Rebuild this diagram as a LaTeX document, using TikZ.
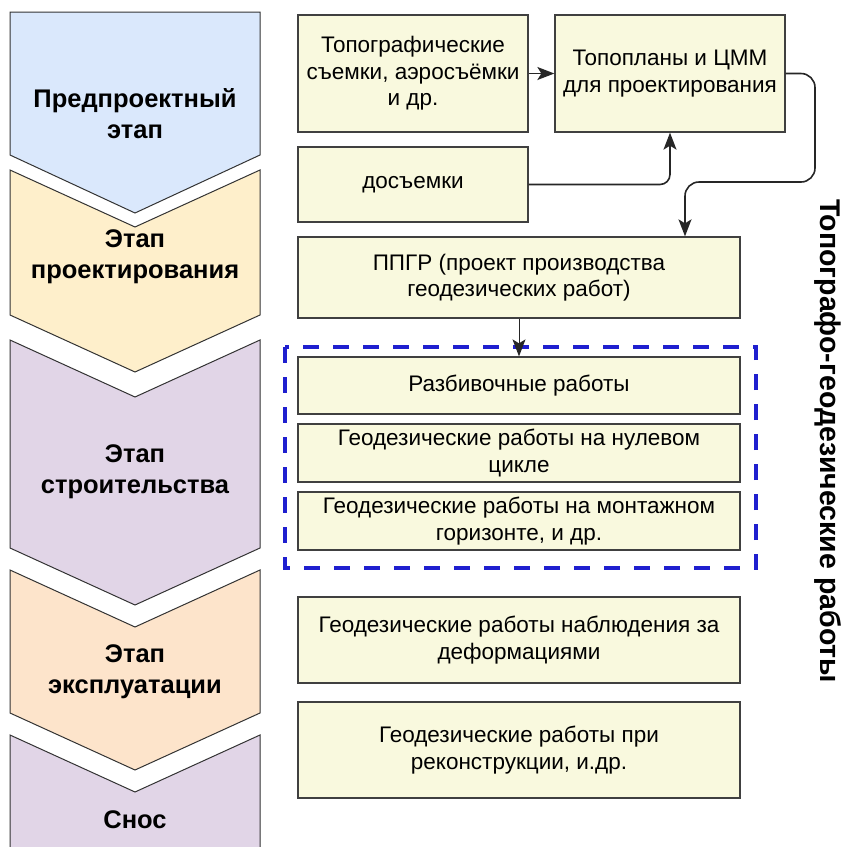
\documentclass[tikz,border=0pt]{standalone}
\usepackage{fontspec}
\setmainfont{Liberation Sans}
\usetikzlibrary{arrows.meta}

\definecolor{stageblue}{HTML}{DAE8FC}
\definecolor{stageyellow}{HTML}{FEEFCB}
\definecolor{stageorange}{HTML}{FDE4CB}
\definecolor{stagepurple}{HTML}{E1D5E7}
\definecolor{boxfill}{HTML}{F9F9DE}
\definecolor{framblue}{HTML}{1F1FCF}

\begin{document}
\begin{tikzpicture}[x=1pt,y=-1pt,
    stage/.style={align=center, font=\fontsize{25.5}{31}\selectfont\bfseries},
    chev/.style={draw=black!80, line width=1pt},
    box/.style={draw=black!75, fill=boxfill, line width=1.3pt, align=center,
      inner sep=0pt, font=\fontsize{22.5}{26.5}\selectfont},
    arr/.style={-{Stealth[length=17pt,width=13pt,inset=4pt]}, line width=1.6pt, draw=black!85}]
  \useasboundingbox (0,0) rectangle (843,847);

  % stages
  \path[chev, fill=stageblue] (10,12) -- (260,12) -- (260,155) -- (135,213) -- (10,155) -- cycle;
  \path[chev, fill=stageyellow] (10,170) -- (135,227) -- (260,170) -- (260,315) -- (135,372) -- (10,315) -- cycle;
  \path[chev, fill=stagepurple] (10,340) -- (135,397) -- (260,340) -- (260,548) -- (135,605) -- (10,548) -- cycle;
  \path[chev, fill=stageorange] (10,570) -- (135,627) -- (260,570) -- (260,713) -- (135,770) -- (10,713) -- cycle;
  \path[chev, fill=stagepurple] (10,735) -- (135,792) -- (260,735) -- (260,849) -- (10,849) -- cycle;

  \node[stage] (pre) at (135,114) {Предпроектный\\этап};
  \node[stage] (proj) at (135,257) {Этап\\проектирования};
  \node[stage] (build) at (135,472) {Этап\\строительства};
  \node[stage] (use) at (135,672) {Этап\\эксплуатации};
  \node[stage] (demol) at (135,820) {Снос};

  % works
  \node[box, minimum width=230, minimum height=117] (topo) at (413,73.5) {Топографические\\съемки, аэросъёмки\\и др.};
  \node[box, minimum width=230, minimum height=117] (tmm) at (670,73.5) {Топопланы и ЦММ\\для проектирования};
  \node[box, minimum width=230, minimum height=75] (dos) at (413,184.5) {досъемки};
  \node[box, minimum width=442, minimum height=81] (ppgr) at (519,277.5) {ППГР (проект производства\\геодезических работ)};

  \draw[framblue, line width=3.5pt, dash pattern=on 16pt off 14pt] (285,347) rectangle (756,568);

  \node[box, minimum width=442, minimum height=57] (razb) at (519,385.5) {Разбивочные работы};
  \node[box, minimum width=442, minimum height=58] (zero) at (519,453) {Геодезические работы на нулевом\\цикле};
  \node[box, minimum width=442, minimum height=58] (mont) at (519,521) {Геодезические работы на монтажном\\горизонте, и др.};
  \node[box, minimum width=442, minimum height=86] (deform) at (519,640) {Геодезические работы наблюдения за\\деформациями};
  \node[box, minimum width=442, minimum height=96] (recon) at (519,750) {Геодезические работы при\\реконструкции, и.др.};

  \node[rotate=-90, font=\fontsize{28.5}{32}\selectfont\bfseries] (side) at (828,441) {Топографо-геодезические работы};

  \coordinate (loopA) at (815,182);
  \coordinate (loopB) at (685,182);
  \draw[arr] (topo) -- (tmm);
  \draw[arr, rounded corners=10] (dos.east) -| (tmm.south);
  \draw[arr, rounded corners=14] (tmm.east) -| (loopA) -- (loopB) -- (loopB |- ppgr.north);
  \draw[arr, line width=0.9pt] (ppgr) -- (razb);
\end{tikzpicture}
\end{document}
